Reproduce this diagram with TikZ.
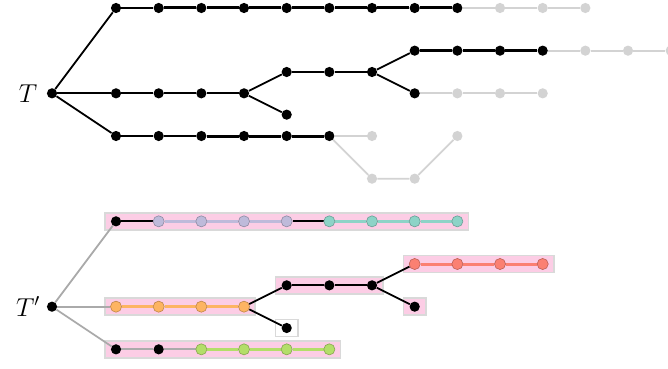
\documentclass[tikz,border=0pt]{standalone}
\usetikzlibrary{backgrounds,calc}
\definecolor{lgray}{HTML}{D3D3D3}
\definecolor{mgray}{HTML}{AAAAAA}
\definecolor{cteal}{HTML}{8DD3C7}
\definecolor{clav}{HTML}{BEBADA}
\definecolor{cred}{HTML}{FB8072}
\definecolor{corange}{HTML}{FDB462}
\definecolor{cgreen}{HTML}{B3DE69}
\definecolor{cpink}{HTML}{FCCDE5}
\definecolor{cbox}{HTML}{D9D9D9}
\tikzset{
  bn/.style={circle,fill=black,inner sep=0pt,minimum size=6.8pt},
  gn/.style={circle,fill=lgray,inner sep=0pt,minimum size=6.8pt},
  cn/.style={circle,fill=#1,draw=#1!75!black,line width=0.4pt,inner sep=0pt,minimum size=7.4pt},
  thinb/.style={draw=black,line width=1.2pt},
  thickb/.style={draw=black,line width=2pt},
  grayl/.style={draw=lgray,line width=1.2pt},
  mgrayl/.style={draw=mgray,line width=1.2pt},
  coll/.style={draw=#1,line width=2pt},
  pbox/.style={fill=cpink,draw=cbox,line width=1pt},
  wbox/.style={fill=white,draw=cbox,line width=1pt},
  lbl/.style={font=\LARGE}
}
\begin{document}
\begin{tikzpicture}
\useasboundingbox (-1.219,-6.445) rectangle (14.437,2.1875);
% ---------- top tree T ----------
\node[bn] (r) at (0,0) {};
\node[lbl] (lT) at (-0.56,0) {$T$};
\foreach \i in {1,...,9} \node[bn] (a\i) at (0.5+\i,2) {};
\foreach \i in {10,11,12} \node[gn] (a\i) at (0.5+\i,2) {};
\foreach \i in {1,...,4} \node[bn] (b\i) at (0.5+\i,0) {};
\foreach \i in {1,2,3} \node[bn] (c\i) at (4.5+\i,0.5) {};
\node[bn] (d) at (5.5,-0.5) {};
\foreach \i in {1,...,4} \node[bn] (e\i) at (7.5+\i,1) {};
\foreach \i in {5,6,7} \node[gn] (e\i) at (7.5+\i,1) {};
\node[bn] (f1) at (8.5,0) {};
\foreach \i in {2,3,4} \node[gn] (f\i) at (7.5+\i,0) {};
\foreach \i in {1,...,6} \node[bn] (g\i) at (0.5+\i,-1) {};
\node[gn] (g7) at (7.5,-1) {};
\node[gn] (h1) at (7.5,-2) {};
\node[gn] (h2) at (8.5,-2) {};
\node[gn] (h3) at (9.5,-1) {};
% ---------- bottom tree T' ----------
\node[bn] (R) at (0,-5) {};
\node[lbl] (lT2) at (-0.56,-5) {$T'$};
\node[bn] (A1) at (1.5,-3) {};
\foreach \i in {2,...,5} \node[cn=clav] (A\i) at (0.5+\i,-3) {};
\foreach \i in {6,...,9} \node[cn=cteal] (A\i) at (0.5+\i,-3) {};
\foreach \i in {1,2,3} \node[bn] (C\i) at (4.5+\i,-4.5) {};
\foreach \i in {1,...,4} \node[cn=cred] (E\i) at (7.5+\i,-4) {};
\node[bn] (F1) at (8.5,-5) {};
\foreach \i in {1,...,4} \node[cn=corange] (B\i) at (0.5+\i,-5) {};
\node[bn] (D) at (5.5,-5.5) {};
\node[bn] (G1) at (1.5,-6) {};
\node[bn] (G2) at (2.5,-6) {};
\foreach \i in {3,...,6} \node[cn=cgreen] (G\i) at (0.5+\i,-6) {};
\begin{scope}[on background layer]
  % boxes
  \draw[pbox] ($(A1)+(-0.26,-0.2)$) rectangle ($(A9)+(0.26,0.2)$);
  \draw[pbox] ($(C1)+(-0.26,-0.2)$) rectangle ($(C3)+(0.26,0.2)$);
  \draw[pbox] ($(E1)+(-0.26,-0.2)$) rectangle ($(E4)+(0.26,0.2)$);
  \draw[pbox] ($(B1)+(-0.26,-0.2)$) rectangle ($(B4)+(0.26,0.2)$);
  \draw[pbox] ($(F1)+(-0.26,-0.2)$) rectangle ($(F1)+(0.26,0.2)$);
  \draw[wbox] ($(D)+(-0.26,-0.2)$) rectangle ($(D)+(0.26,0.2)$);
  \draw[pbox] ($(G1)+(-0.26,-0.2)$) rectangle ($(G6)+(0.26,0.2)$);
  % top edges
  \draw[thinb] (r) -- (a1);
  \draw[thinb] (r) -- (b1);
  \draw[thinb] (r) -- (g1);
  \draw[thinb] (a1) -- (a2);
  \draw[thickb] (a2) -- (a3) -- (a4) -- (a5) -- (a6) -- (a7) -- (a8) -- (a9);
  \draw[grayl] (a9) -- (a10) -- (a11) -- (a12);
  \draw[thinb] (b1) -- (b2) -- (b3) -- (b4);
  \draw[thinb] (b4) -- (c1);
  \draw[thinb] (b4) -- (d);
  \draw[thinb] (c1) -- (c2) -- (c3);
  \draw[thinb] (c3) -- (e1);
  \draw[thinb] (c3) -- (f1);
  \draw[thickb] (e1) -- (e2) -- (e3) -- (e4);
  \draw[grayl] (e4) -- (e5) -- (e6) -- (e7);
  \draw[grayl] (f1) -- (f2) -- (f3) -- (f4);
  \draw[thinb] (g1) -- (g2) -- (g3);
  \draw[thickb] (g3) -- (g4) -- (g5) -- (g6);
  \draw[grayl] (g6) -- (g7);
  \draw[grayl] (g6) -- (h1) -- (h2) -- (h3);
  % bottom edges
  \draw[mgrayl] (R) -- (A1);
  \draw[mgrayl] (R) -- (B1);
  \draw[mgrayl] (R) -- (G1);
  \draw[thinb] (A1) -- (A2);
  \draw[coll=clav] (A2) -- (A3) -- (A4) -- (A5);
  \draw[thinb] (A5) -- (A6);
  \draw[coll=cteal] (A6) -- (A7) -- (A8) -- (A9);
  \draw[coll=corange] (B1) -- (B2) -- (B3) -- (B4);
  \draw[thinb] (B4) -- (C1);
  \draw[thinb] (B4) -- (D);
  \draw[thinb] (C1) -- (C2) -- (C3);
  \draw[thinb] (C3) -- (E1);
  \draw[thinb] (C3) -- (F1);
  \draw[coll=cred] (E1) -- (E2) -- (E3) -- (E4);
  \draw[mgrayl] (G1) -- (G2) -- (G3);
  \draw[coll=cgreen] (G3) -- (G4) -- (G5) -- (G6);
\end{scope}
\end{tikzpicture}
\end{document}
